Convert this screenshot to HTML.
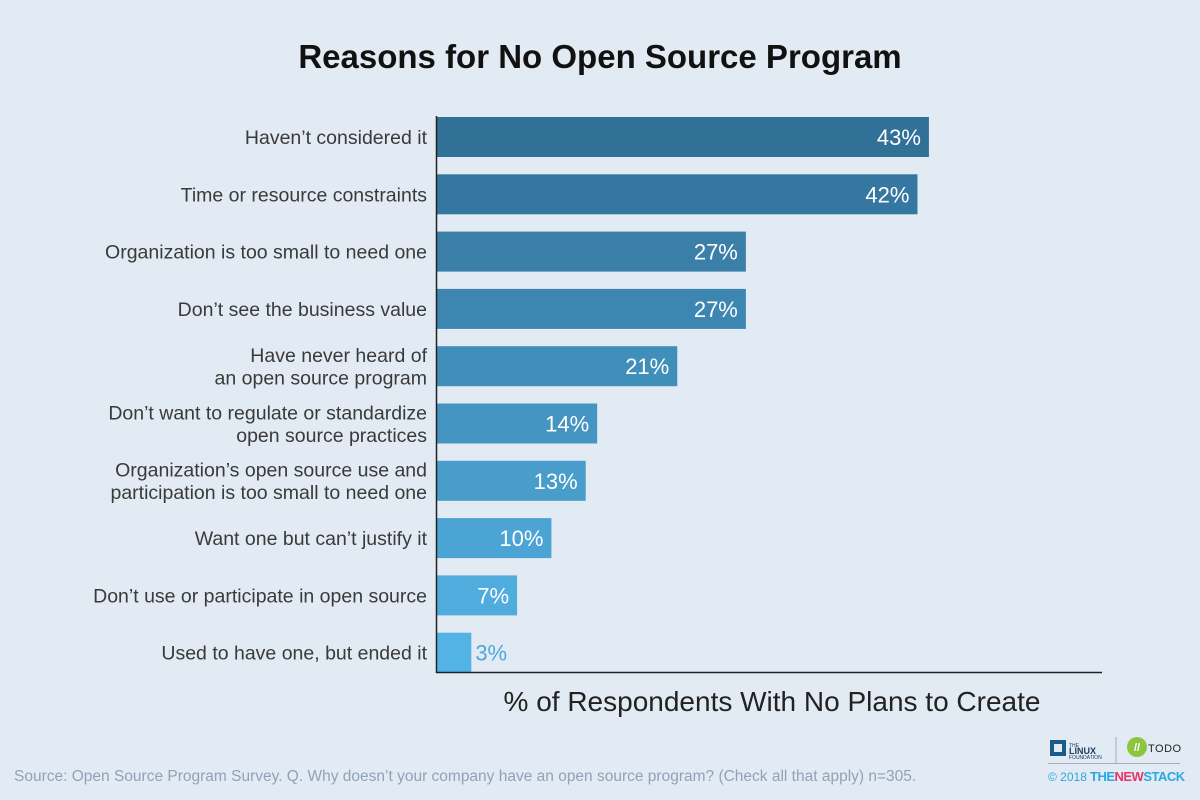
<!DOCTYPE html>
<html><head><meta charset="utf-8"><style>
body{margin:0;width:1200px;height:800px;background:#e2eaf3;font-family:"Liberation Sans",sans-serif;overflow:hidden}
</style></head><body>
<svg id="chart" width="1200" height="800" xmlns="http://www.w3.org/2000/svg" style="position:absolute;left:0;top:0">
<rect width="1200" height="800" fill="#e2eaf3"/>
<text x="600" y="68" text-anchor="middle" font-size="33" font-weight="bold" fill="#111">Reasons for No Open Source Program</text>
<g id="bars"></g>
<line x1="436.5" y1="116" x2="436.5" y2="673" stroke="#222" stroke-width="1.5"/>
<line x1="436" y1="672.5" x2="1102" y2="672.5" stroke="#222" stroke-width="1.5"/>
<text x="772" y="711" text-anchor="middle" font-size="28" fill="#222">% of Respondents With No Plans to Create</text>
<text x="14" y="781" font-size="15.5" fill="#8fa3b8">Source: Open Source Program Survey. Q. Why doesn’t your company have an open source program? (Check all that apply) n=305.</text>
<g>
<rect x="1050" y="740" width="16" height="16" fill="#1c5a8a"/><rect x="1054" y="744" width="8" height="8" fill="#e2eaf3"/>
<text x="1069" y="747" font-size="5" fill="#1c3a5a">THE</text>
<text x="1069" y="754" font-size="9" font-weight="bold" fill="#1c3a5a">LINUX</text>
<text x="1069" y="759" font-size="5" fill="#1c3a5a">FOUNDATION</text>
</g>
<line x1="1116" y1="737" x2="1116" y2="763" stroke="#aab" stroke-width="1"/>
<g>
<circle cx="1137" cy="747" r="10" fill="#8cc63f"/><text x="1137" y="751" text-anchor="middle" font-size="11" font-weight="bold" fill="#fff">//</text>
<text x="1148" y="752" font-size="11" fill="#222" letter-spacing="0.5">TODO</text>
</g>
<line x1="1048" y1="763.5" x2="1180" y2="763.5" stroke="#aab" stroke-width="1"/>
<text x="1048" y="781" font-size="12" fill="#29a9e1">© 2018</text>
<text x="1090" y="781" font-size="13" font-weight="bold" fill="#29a9e1" letter-spacing="-0.5">THE<tspan fill="#e8336d">NEW</tspan>STACK</text>
</svg>
<script>
const categories=[["Haven’t considered it"],["Time or resource constraints"],["Organization is too small to need one"],["Don’t see the business value"],["Have never heard of","an open source program"],["Don’t want to regulate or standardize","open source practices"],["Organization’s open source use and","participation is too small to need one"],["Want one but can’t justify it"],["Don’t use or participate in open source"],["Used to have one, but ended it"]];
const values=[43,42,27,27,21,14,13,10,7,3];
const labels=["43%","42%","27%","27%","21%","14%","13%","10%","7%","3%"];
const NS="http://www.w3.org/2000/svg";
const x=v=>437+v*11.44;
const yc=i=>137+i*57.3;
const c0=[0x31,0x70,0x97],c1=[0x53,0xb3,0xe5];
const g=document.getElementById('bars');
values.forEach((v,i)=>{
  const t=i/(values.length-1);
  const col='rgb('+c0.map((a,k)=>Math.round(a+(c1[k]-a)*t)).join(',')+')';
  const r=document.createElementNS(NS,'rect');
  
  
  r.setAttribute('x',437);r.setAttribute('y',yc(i)-20);
  r.setAttribute('width',x(v)-437);r.setAttribute('height',40);r.setAttribute('fill',col);
  g.appendChild(r);
  const lt=document.createElementNS(NS,'text');
  
  
  const inside=v>=5;
  lt.setAttribute('x',inside?x(v)-8:x(v)+4);lt.setAttribute('y',yc(i)+8);
  lt.setAttribute('text-anchor',inside?'end':'start');
  lt.setAttribute('font-size','22');lt.setAttribute('fill',inside?'#fff':'#4aa8dc');
  lt.textContent=labels[i];g.appendChild(lt);
  const ct=document.createElementNS(NS,'text');
  
  
  ct.setAttribute('text-anchor','end');ct.setAttribute('font-size','19.5');ct.setAttribute('fill','#3a3a3a');
  const lines=categories[i];
  lines.forEach((s,k)=>{
    const ts=document.createElementNS(NS,'tspan');
    ts.setAttribute('x',427);
    ts.setAttribute('y',yc(i)+7+(k-(lines.length-1)/2)*22.5);
    ts.textContent=s;ct.appendChild(ts);
  });
  g.appendChild(ct);
});
</script>
</body></html>
